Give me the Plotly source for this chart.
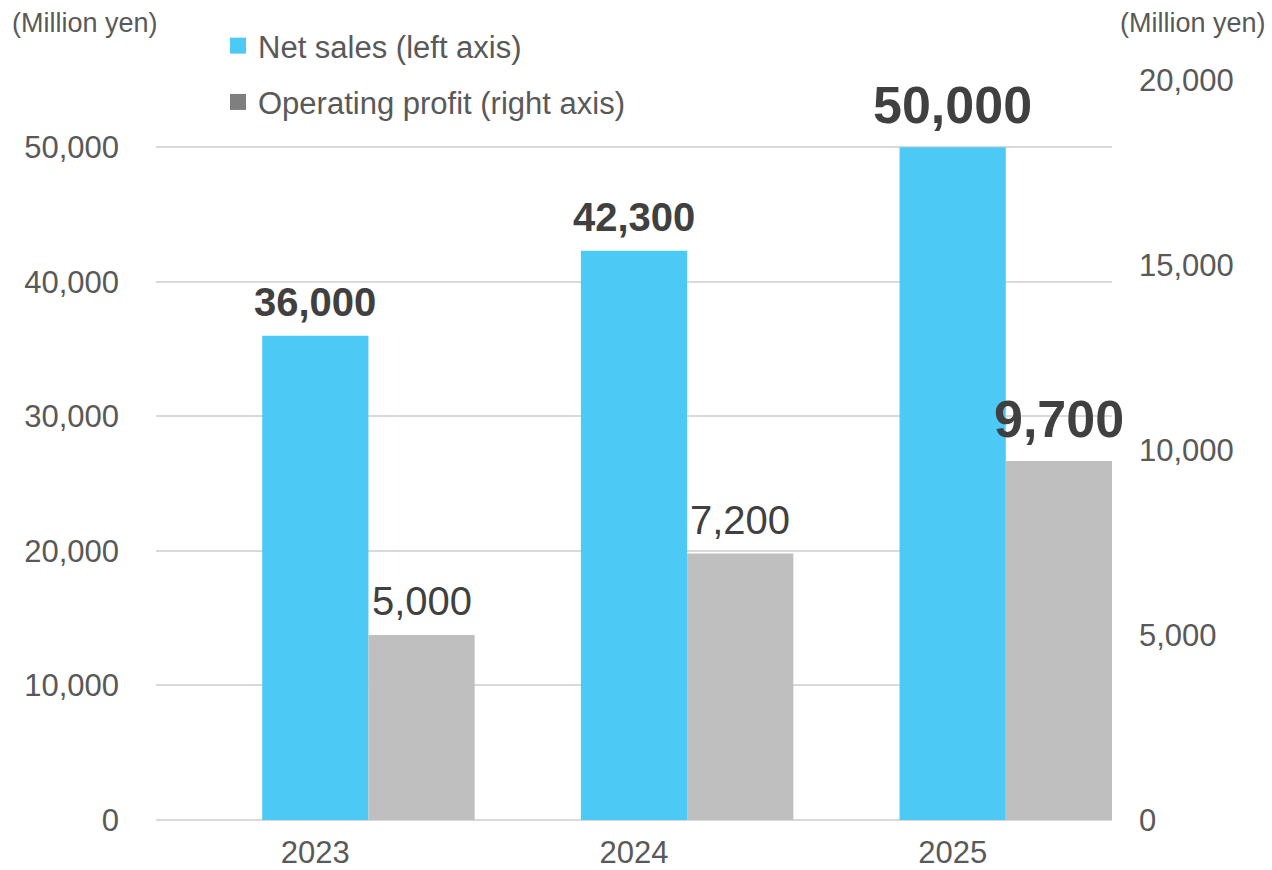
import plotly.graph_objects as go

# Fiscal years and results (million yen)
years = ["2023", "2024", "2025"]
net_sales = [36000, 42300, 50000]
operating_profit = [5000, 7200, 9700]

left_ticks = [0, 10000, 20000, 30000, 40000, 50000]
right_ticks = [0, 5000, 10000, 15000, 20000]

FONT = "Liberation Sans, Arial, sans-serif"
BLUE = "#4CC9F4"
GRAY_BAR = "#BFBFBF"
GRAY_KEY = "#7F7F7F"
AXIS_TXT = "#595959"
LABEL_TXT = "#404040"
GRID = "#D9D9D9"

# label emphasis per year: (font size, bold)
sales_style = [(40, True), (40, True), (52, True)]
profit_style = [(40, False), (40, False), (52, True)]

# bar geometry in category units: sales bar centred on the year,
# profit bar placed directly to its right
BAR_W = 1 / 3
SALES_OFF = -BAR_W / 2
PROFIT_OFF = BAR_W / 2

# plot-area geometry in pixels
PL, PR, PT, PB = 156, 160, 80, 50
W, H = 1272, 870
PW, PH = W - PL - PR, H - PT - PB


def px_x(px):
    return (px - PL) / PW


def px_y(py):
    return (H - PB - py) / PH


fig = go.Figure()

fig.add_trace(go.Bar(
    x=years, y=net_sales, yaxis="y",
    width=BAR_W, offset=SALES_OFF,
    marker=dict(color=BLUE, line=dict(width=0)),
    showlegend=False, hoverinfo="skip",
))
fig.add_trace(go.Bar(
    x=years, y=operating_profit, yaxis="y2",
    width=BAR_W, offset=PROFIT_OFF,
    marker=dict(color=GRAY_BAR, line=dict(width=0)),
    showlegend=False, hoverinfo="skip",
))

# legend keys
fig.add_trace(go.Scatter(
    x=[None], y=[None], mode="markers", name="Net sales (left axis)",
    marker=dict(symbol="square", size=17, color=BLUE), legendgroup="a",
))
fig.add_trace(go.Scatter(
    x=[None], y=[None], mode="markers", name="Operating profit (right axis)",
    marker=dict(symbol="square", size=17, color=GRAY_KEY), legendgroup="b",
))


def value_label(xc, v, yref, sz, bold):
    txt = f"{v:,}"
    return dict(
        x=xc, y=v, xref="x", yref=yref,
        text=f"<b>{txt}</b>" if bold else txt,
        showarrow=False, yanchor="middle", xanchor="center",
        yshift=34 if sz == 40 else 42,
        font=dict(family=FONT, size=sz, color=LABEL_TXT),
    )


annotations = []
for i, (v, (sz, bold)) in enumerate(zip(net_sales, sales_style)):
    annotations.append(value_label(i + SALES_OFF + BAR_W / 2, v, "y", sz, bold))
for i, (v, (sz, bold)) in enumerate(zip(operating_profit, profit_style)):
    annotations.append(value_label(i + PROFIT_OFF + BAR_W / 2, v, "y2", sz, bold))

# unit captions above each axis
for px, anchor in [(10, "left"), (1268, "right")]:
    annotations.append(dict(
        x=px_x(px), y=px_y(23), xref="paper", yref="paper",
        text="(Million yen)", showarrow=False, xanchor=anchor, yanchor="middle",
        font=dict(family=FONT, size=27, color=AXIS_TXT),
    ))

fig.update_layout(
    width=W, height=H,
    margin=dict(l=PL, r=PR, t=PT, b=PB, pad=0, autoexpand=False),
    paper_bgcolor="white", plot_bgcolor="white",
    barmode="overlay",
    font=dict(family=FONT, color=AXIS_TXT),
    showlegend=True,
    legend=dict(
        x=px_x(218), y=px_y(19), xanchor="left", yanchor="top",
        font=dict(family=FONT, size=31, color=AXIS_TXT),
        itemsizing="trace", tracegroupgap=13, bgcolor="rgba(0,0,0,0)",
    ),
    xaxis=dict(
        type="category", range=[-0.5, 2.5], showgrid=False, showline=False,
        zeroline=False, ticks="", tickfont=dict(family=FONT, size=31, color=AXIS_TXT),
        ticklabelstandoff=11, automargin=False, fixedrange=True,
    ),
    yaxis=dict(
        range=[0, 55000], tickvals=left_ticks, tickformat=",",
        showgrid=True, gridcolor=GRID, gridwidth=2,
        zeroline=True, zerolinecolor=GRID, zerolinewidth=2,
        showline=False, ticks="", ticklabelstandoff=36, automargin=False,
        tickfont=dict(family=FONT, size=31, color=AXIS_TXT),
    ),
    yaxis2=dict(
        overlaying="y", side="right", range=[0, 20000], tickvals=right_ticks,
        tickformat=",", showgrid=False, zeroline=False, showline=False,
        ticks="", ticklabelstandoff=26, automargin=False,
        tickfont=dict(family=FONT, size=31, color=AXIS_TXT),
    ),
    annotations=annotations,
)

fig.write_html("out.html")
